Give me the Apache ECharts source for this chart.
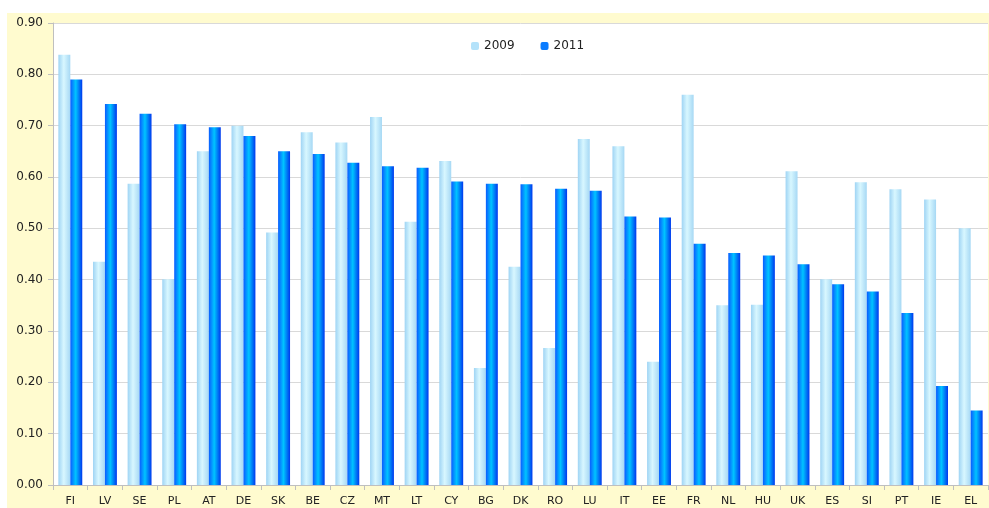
<!DOCTYPE html>
<html lang="en">
<head>
    <meta charset="UTF-8">
    <title>2009 vs 2011</title>
    <script type="text/javascript" src="https://cdn.jsdelivr.net/npm/echarts@6/dist/echarts.min.js"></script>
    <style>
        html, body { margin: 0; padding: 0; background: #fff; }
        #chart1 { position: absolute; left: 7px; top: 13px; width: 982px; height: 495px; background: #fffbcf; }
    </style>
</head>
<body>
    <div id="chart1"></div>
</body>
<script type="text/javascript">
    var countries = ['FI','LV','SE','PL','AT','DE','SK','BE','CZ','MT','LT','CY','BG','DK','RO','LU','IT','EE','FR','NL','HU','UK','ES','SI','PT','IE','EL']
    var values2009 = [0.838,0.435,0.587,0.401,0.650,0.700,0.492,0.687,0.667,0.717,0.513,0.631,0.228,0.425,0.267,0.674,0.660,0.240,0.760,0.350,0.351,0.611,0.401,0.590,0.576,0.556,0.500]
    var values2011 = [0.790,0.742,0.723,0.703,0.697,0.680,0.650,0.645,0.628,0.621,0.618,0.591,0.587,0.586,0.577,0.573,0.523,0.521,0.470,0.452,0.447,0.430,0.391,0.377,0.335,0.193,0.145]
    var yTicks = [0, 0.9, 0.1]  // min, max, step

    function grad(a, b, c) {
        return new echarts.graphic.LinearGradient(0, 0, 1, 0, [
            {offset: 0, color: a}, {offset: 0.45, color: b}, {offset: 1, color: c}
        ])
    }

    var chart = echarts.init(document.getElementById('chart1'))
    var font = 'DejaVu Sans'
    var option = {
        animation: false,
        textStyle: {fontFamily: font},
        legend: {
            top: 22, left: 459,
            itemWidth: 8, itemHeight: 8, itemGap: 26,
            textStyle: {fontSize: 12, color: '#222', fontFamily: font},
            data: [
                {name: '2009', itemStyle: {color: '#b4e2fa'}},
                {name: '2011', itemStyle: {color: '#0a7cff'}}
            ]
        },
        grid: {left: 46, right: 1, top: 10, bottom: 23, show: true, backgroundColor: '#fff', borderWidth: 0},
        xAxis: {
            type: 'category',
            data: countries,
            axisLine: {lineStyle: {color: '#bfbfbf'}},
            axisTick: {show: true, length: 5, lineStyle: {color: '#bfbfbf'}},
            axisLabel: {color: '#222', fontSize: 11, margin: 11, interval: 0}
        },
        yAxis: {
            type: 'value',
            min: yTicks[0], max: yTicks[1], interval: yTicks[2],
            axisLine: {show: true, lineStyle: {color: '#bfbfbf'}},
            axisTick: {show: true, length: 5, lineStyle: {color: '#bfbfbf'}},
            axisLabel: {color: '#222', fontSize: 12, margin: 10, formatter: function (v) { return v.toFixed(2) }},
            splitLine: {lineStyle: {color: '#d9d9d9'}}
        },
        series: [
            {
                name: '2009', type: 'bar', data: values2009,
                barGap: '0%', barCategoryGap: '31%',
                itemStyle: {color: grad('#9fd4f4', '#d8f7ff', '#a6d8f4')}
            },
            {
                name: '2011', type: 'bar', data: values2011,
                itemStyle: {color: grad('#0a5cff', '#00c4ff', '#0038ee')}
            }
        ]
    }
    chart.setOption(option)
</script>
</html>
